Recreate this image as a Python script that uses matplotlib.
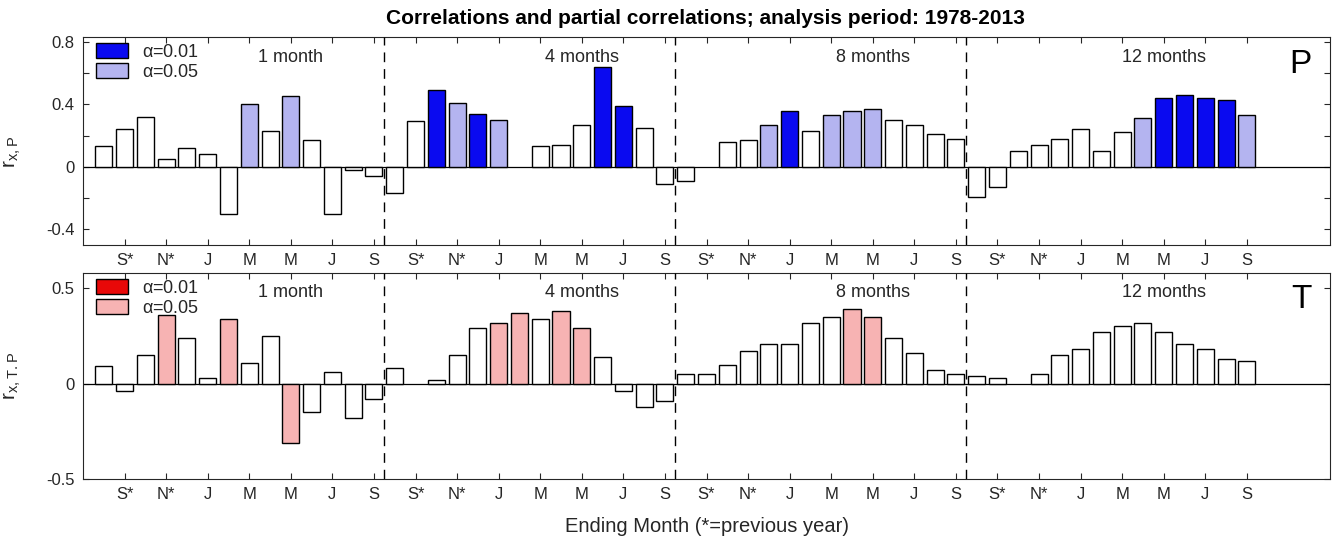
import numpy as np
import matplotlib
matplotlib.use("Agg")
import matplotlib.pyplot as plt
from matplotlib.patches import Patch

plt.rcParams['font.family'] = ['Liberation Sans', 'DejaVu Sans']
plt.rcParams['mathtext.default'] = 'regular'

# ---------------- data ----------------
months = ['A*', 'S*', 'O*', 'N*', 'D*', 'J', 'F', 'M', 'A', 'M', 'J', 'J', 'A', 'S']
tick_labels = ['S*', 'N*', 'J', 'M', 'M', 'J', 'S']
windows = ['1 month', '4 months', '8 months', '12 months']
nan = np.nan

# Precipitation correlations (per window, 14 ending months)
p_1m = [0.13, 0.24, 0.32, 0.05, 0.12, 0.08, -0.30, 0.40, 0.23, 0.45, 0.17, -0.30, -0.02, -0.06]
p_4m = [-0.17, 0.29, 0.49, 0.41, 0.34, 0.30, nan, 0.13, 0.14, 0.27, 0.64, 0.39, 0.25, -0.11]
p_8m = [-0.09, nan, 0.16, 0.17, 0.27, 0.36, 0.23, 0.33, 0.36, 0.37, 0.30, 0.27, 0.21, 0.18]
p_12m = [-0.19, -0.13, 0.10, 0.14, 0.18, 0.24, 0.10, 0.22, 0.31, 0.44, 0.46, 0.44, 0.43, 0.33]
# significance: 0 = n.s., 1 = alpha 0.05, 2 = alpha 0.01
p_sig_1m = [0, 0, 0, 0, 0, 0, 0, 1, 0, 1, 0, 0, 0, 0]
p_sig_4m = [0, 0, 2, 1, 2, 1, 0, 0, 0, 0, 2, 2, 0, 0]
p_sig_8m = [0, 0, 0, 0, 1, 2, 0, 1, 1, 1, 0, 0, 0, 0]
p_sig_12m = [0, 0, 0, 0, 0, 0, 0, 0, 1, 2, 2, 2, 2, 1]

# Temperature partial correlations
t_1m = [0.09, -0.04, 0.15, 0.36, 0.24, 0.03, 0.34, 0.11, 0.25, -0.31, -0.15, 0.06, -0.18, -0.08]
t_4m = [0.08, nan, 0.02, 0.15, 0.29, 0.32, 0.37, 0.34, 0.38, 0.29, 0.14, -0.04, -0.12, -0.09]
t_8m = [0.05, 0.05, 0.10, 0.17, 0.21, 0.21, 0.32, 0.35, 0.39, 0.35, 0.24, 0.16, 0.07, 0.05]
t_12m = [0.04, 0.03, nan, 0.05, 0.15, 0.18, 0.27, 0.30, 0.32, 0.27, 0.21, 0.18, 0.13, 0.12]
t_sig_1m = [0, 0, 0, 1, 0, 0, 1, 0, 0, 1, 0, 0, 0, 0]
t_sig_4m = [0, 0, 0, 0, 0, 1, 1, 0, 1, 1, 0, 0, 0, 0]
t_sig_8m = [0, 0, 0, 0, 0, 0, 0, 0, 1, 1, 0, 0, 0, 0]
t_sig_12m = [0] * 14

p_vals = [p_1m, p_4m, p_8m, p_12m]
p_sigs = [p_sig_1m, p_sig_4m, p_sig_8m, p_sig_12m]
t_vals = [t_1m, t_4m, t_8m, t_12m]
t_sigs = [t_sig_1m, t_sig_4m, t_sig_8m, t_sig_12m]

# ---------------- styling ----------------
W, H = 1335, 545
TXT = '#262626'
p_colors = {0: 'white', 1: '#b4b4f0', 2: '#0a0af0'}
t_colors = {0: 'white', 1: '#f7b3b3', 2: '#e80808'}

fig = plt.figure(figsize=(W / 100, H / 100), dpi=100)
ax1 = fig.add_axes([83 / W, 1 - 245 / H, 1247 / W, 208 / H])
ax2 = fig.add_axes([83 / W, 1 - 479 / H, 1247 / W, 206 / H])

n = len(months)


def draw_panel(ax, vals, sigs, colors, ylim, yticks, ylabels, letter, ylab):
    for g, (v, s) in enumerate(zip(vals, sigs)):
        v = np.asarray(v, dtype=float)
        x = g * n + np.arange(n) + 1
        ok = ~np.isnan(v)
        ax.bar(x[ok], v[ok], width=0.82, color=[colors[k] for k, o in zip(s, ok) if o],
               edgecolor='black', linewidth=1.0, zorder=3)
        ax.text(g * n + 10, ylim[1] - 0.097 * (ylim[1] - ylim[0]), windows[g],
                ha='center', va='center', fontsize=13, color=TXT)
        if g < 3:
            ax.axvline(g * n + n + 0.5, color='black', linestyle=(0, (7, 5)),
                       linewidth=1.0, zorder=4)
    ax.axhline(0, color='black', linewidth=0.9, zorder=2)
    ax.set_xlim(0, 60)
    ax.set_ylim(*ylim)
    xt = [g * n + m + 1 for g in range(4) for m in (1, 3, 5, 7, 9, 11, 13)]
    ax.set_xticks(xt)
    ax.set_xticklabels(tick_labels * 4, fontsize=12, color=TXT)
    ax.set_yticks(yticks)
    ax.set_yticklabels(ylabels, fontsize=12, color=TXT)
    ax.tick_params(direction='in', top=True, right=True, length=4, width=0.8,
                   colors=TXT, labelcolor=TXT, pad=6)
    for sp in ax.spines.values():
        sp.set_color(TXT)
        sp.set_linewidth(0.8)
    ax.text(0.985, 0.87, letter, transform=ax.transAxes, ha='right', va='center',
            fontsize=24, color='black')
    ax.set_ylabel(ylab, fontsize=15, color=TXT, labelpad=4)


draw_panel(ax1, p_vals, p_sigs, p_colors, (-0.5, 0.83),
           [-0.4, -0.2, 0, 0.2, 0.4, 0.6, 0.8],
           ['-0.4', '', '0', '', '0.4', '', '0.8'], 'P', r'$r_{x,P}$')
draw_panel(ax2, t_vals, t_sigs, t_colors, (-0.5, 0.58),
           [-0.5, 0, 0.5], ['-0.5', '0', '0.5'], 'T', r'$r_{x,T.P}$')

for ax, cols in ((ax1, p_colors), (ax2, t_colors)):
    handles = [Patch(facecolor=cols[2], edgecolor='black', linewidth=1.0),
               Patch(facecolor=cols[1], edgecolor='black', linewidth=1.0)]
    ax.legend(handles, [r'$\alpha$=0.01', r'$\alpha$=0.05'], loc='upper left',
              bbox_to_anchor=(0.005, 1.0),
              frameon=False, fontsize=13, handlelength=1.8, handleheight=0.85,
              labelspacing=0.15, borderaxespad=0.15, handletextpad=0.8,
              borderpad=0.2, labelcolor=TXT)

ax1.yaxis.set_label_coords(-0.048, 0.45)
ax2.yaxis.set_label_coords(-0.048, 0.5)

fig.text(705 / W, 1 - 18 / H, 'Correlations and partial correlations; analysis period: 1978-2013',
         ha='center', va='center', fontsize=15, fontweight='bold', color='black')
fig.text(707 / W, 1 - 527 / H, 'Ending Month (*=previous year)', ha='center', va='center',
         fontsize=14.5, color=TXT)

fig.savefig('out.png', dpi=100)
